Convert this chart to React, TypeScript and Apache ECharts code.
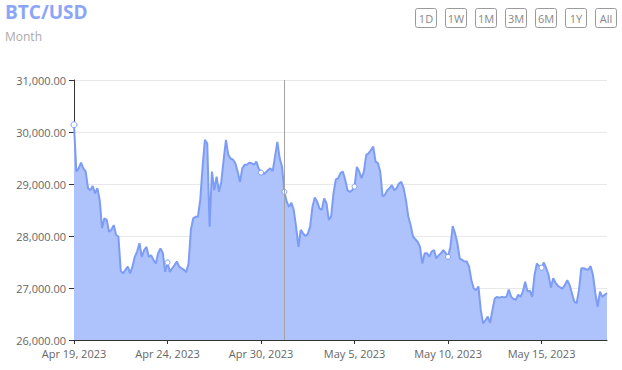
import React, { useEffect, useRef } from "react";
import * as echarts from "echarts";

// ---- data ----
const xTickLabels = ["Apr 19, 2023", "Apr 24, 2023", "Apr 30, 2023", "May 5, 2023", "May 10, 2023", "May 15, 2023"];
const pointsPerTick = 40;
const prices = [
  30140, 29240, 29300, 29410, 29300, 29240, 28920, 28880, 28960, 28820,
  28920, 28690, 28150, 28340, 28310, 28080, 28120, 28210, 28020, 27990,
  27330, 27280, 27350, 27410, 27280, 27410, 27600, 27700, 27860, 27600,
  27730, 27790, 27600, 27630, 27540, 27470, 27670, 27760, 27670, 27310,
  27490, 27310, 27380, 27440, 27510, 27410, 27380, 27350, 27310, 27470,
  28120, 28340, 28370, 28370, 28690, 29330, 29850, 29780, 28180, 29240,
  28880, 29140, 28850, 29040, 29460, 29850, 29560, 29490, 29470, 29400,
  29240, 29040, 29300, 29370, 29370, 29410, 29400, 29370, 29430, 29300,
  29220, 29190, 29220, 29270, 29300, 29250, 29530, 29810, 29490, 29330,
  28850, 28660, 28560, 28640, 28500, 28180, 27790, 28120, 28050, 28000,
  28040, 28180, 28560, 28740, 28660, 28530, 28500, 28720, 28630, 28310,
  28380, 28820, 29090, 29110, 29210, 29240, 29080, 28880, 28850, 28880,
  28950, 29330, 29240, 29110, 29240, 29560, 29590, 29650, 29720, 29430,
  29400, 29240, 28760, 28790, 28880, 28920, 28980, 28880, 28920, 29010,
  29040, 28920, 28690, 28370, 28210, 27990, 27940, 27890, 27790, 27470,
  27670, 27670, 27600, 27700, 27730, 27570, 27630, 27670, 27730, 27670,
  27600, 27790, 28190, 28050, 27860, 27570, 27540, 27510, 27510, 27410,
  27150, 26990, 26960, 27030, 26580, 26320, 26380, 26450, 26330, 26580,
  26800, 26830, 26810, 26830, 26820, 26830, 26970, 26830, 26790, 26770,
  26870, 26830, 26930, 27120, 26930, 26950, 26830, 27250, 27470, 27420,
  27390, 27490, 27380, 27250, 27010, 27190, 27100, 27040, 27010, 26990,
  27060, 27150, 27060, 26900, 26740, 26710, 26960, 27380, 27380, 27360,
  27350, 27420, 27250, 26900, 26640, 26930, 26830, 26870, 26900,
];
const hoverIndex = 90;
const yMin = 26000;
const yMax = 31000;
const yStep = 1000;
const titleText = "BTC/USD";
const subtitleText = "Month";
const rangeButtons = ["1D", "1W", "1M", "3M", "6M", "1Y", "All"];

const LINE = "#7d9cf5";
const AREA = "#aec2fb";
const FONT = "'Open Sans', 'DejaVu Sans', sans-serif";

export default function App() {
  const ref = useRef<HTMLDivElement>(null);
  useEffect(() => {
    if (!ref.current) return;
    const chart = echarts.init(ref.current, undefined, { renderer: "svg" });
    const categories = prices.map((_, i) => String(i));
    const seriesData = prices.map((v, i) => {
      const marked = i % pointsPerTick === 0 || i === hoverIndex;
      return marked
        ? { value: v, symbol: "circle", symbolSize: i === 0 ? 6 : 5 }
        : { value: v, symbol: "none" };
    });
    const buttons = rangeButtons.map((b, k) => ({
      type: "group",
      left: 415 + k * 30,
      top: 8,
      children: [
        {
          type: "rect",
          shape: { x: 0, y: 0, width: 21, height: 19, r: 2 },
          style: { fill: "#fff", stroke: "#9a9a9a", lineWidth: 1 },
        },
        {
          type: "text",
          x: 10.5,
          y: 9.5,
          style: {
            text: b,
            fill: "#888",
            font: `11px ${FONT}`,
            align: "center",
            verticalAlign: "middle",
          },
        },
      ],
    }));
    chart.setOption({
      animation: false,
      grid: { left: 74, right: 15, top: 80, bottom: 30, containLabel: false },
      graphic: [
        {
          type: "text",
          left: 5,
          top: 2,
          style: { text: titleText, fill: "#8ba6f8", font: `bold 19px ${FONT}` },
        },
        {
          type: "text",
          left: 5,
          top: 30,
          style: { text: subtitleText, fill: "#aaaaaa", font: `12px ${FONT}` },
        },
        ...buttons,
      ],
      xAxis: {
        type: "category",
        data: categories,
        boundaryGap: false,
        axisLine: { lineStyle: { color: "#333", width: 1 } },
        axisTick: {
          show: true,
          length: 4,
          interval: (i: number) => i % pointsPerTick === 0,
          lineStyle: { color: "#333" },
        },
        axisLabel: {
          interval: (i: number) => i % pointsPerTick === 0,
          formatter: (_v: string, i: number) => xTickLabels[i / pointsPerTick] ?? "",
          color: "#666",
          fontFamily: FONT,
          fontSize: 11,
          margin: 8,
        },
        splitLine: { show: false },
      },
      yAxis: {
        type: "value",
        min: yMin,
        max: yMax,
        interval: yStep,
        axisLine: { show: true, lineStyle: { color: "#333", width: 1 } },
        axisTick: { show: true, length: 5, lineStyle: { color: "#333" } },
        axisLabel: {
          color: "#666",
          fontFamily: FONT,
          fontSize: 11,
          margin: 8,
          formatter: (v: number) =>
            v.toLocaleString("en-US", { minimumFractionDigits: 2, maximumFractionDigits: 2 }),
        },
        splitLine: { lineStyle: { color: "#e8e8e8", width: 1 } },
      },
      series: [
        {
          type: "line",
          data: seriesData,
          showSymbol: true,
          showAllSymbol: true,
          itemStyle: { color: "#fff", borderColor: LINE, borderWidth: 1 },
          lineStyle: { color: LINE, width: 2 },
          areaStyle: { color: AREA, opacity: 1 },
          markLine: {
            silent: true,
            symbol: "none",
            label: { show: false },
            lineStyle: { color: "#a3a3a3", width: 1, type: "solid" },
            data: [{ xAxis: hoverIndex }],
          },
          z: 2,
        },
      ],
    });
    return () => chart.dispose();
  }, []);
  return (
    <div
      ref={ref}
      style={{ position: "fixed", left: 0, top: 0, width: 622, height: 370, background: "#fff" }}
    />
  );
}
